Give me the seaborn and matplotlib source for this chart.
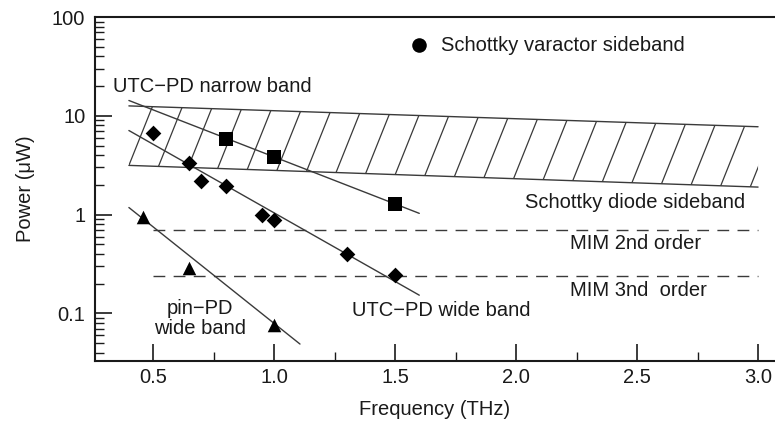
import numpy as np
import matplotlib.pyplot as plt
import seaborn as sns
from matplotlib.patches import Polygon
from matplotlib.collections import LineCollection
from matplotlib.ticker import LogLocator, MultipleLocator, NullFormatter

# values (frequency in THz, power in uW)
narrow_freq = [0.8, 1.0, 1.5]
narrow_power = [5.8, 3.85, 1.28]
narrow_fit_freq = [0.4, 1.6]
narrow_fit_power = [14.3, 1.03]

wide_freq = [0.5, 0.65, 0.7, 0.8, 0.95, 1.0, 1.3, 1.5]
wide_power = [6.65, 3.33, 2.2, 1.95, 0.98, 0.88, 0.40, 0.245]
wide_fit_freq = [0.4, 1.6]
wide_fit_power = [7.1, 0.153]

pin_freq = [0.46, 0.65, 1.0]
pin_power = [0.94, 0.29, 0.076]
pin_fit_freq = [0.4, 1.107]
pin_fit_power = [1.18, 0.049]

band_freq = [0.4, 3.0]
band_top = [12.6, 7.75]
band_bottom = [3.15, 1.9]

mim_freq = [0.5, 3.0]
mim2_power = [0.7, 0.7]
mim3_power = [0.24, 0.24]

varactor_freq = [1.6]
varactor_power = [52]

x_ticks = [0.5, 1.0, 1.5, 2.0, 2.5, 3.0]
x_labels = ['0.5', '1.0', '1.5', '2.0', '2.5', '3.0']
y_ticks = [0.1, 1, 10, 100]
y_labels = ['0.1', '1', '10', '100']

sns.set_style('ticks')
plt.rcParams['font.family'] = ['Liberation Sans', 'DejaVu Sans']
plt.rcParams['font.size'] = 14.5
ink = '#1a1a1a'
line_col = '#3a3a3a'

fig = plt.figure(figsize=(7.75, 4.21), dpi=100)
ax = fig.add_axes([0.1226, 0.1425, 0.8774, 0.8171])
ax.set_yscale('log')
ax.set_xlim(0.26, 3.07)
ax.set_ylim(0.033, 100)

# fit lines
sns.lineplot(x=narrow_fit_freq, y=narrow_fit_power, color=line_col, lw=1.0, ax=ax)
sns.lineplot(x=wide_fit_freq, y=wide_fit_power, color=line_col, lw=1.0, ax=ax)
sns.lineplot(x=pin_fit_freq, y=pin_fit_power, color=line_col, lw=1.0, ax=ax)

# MIM dashed levels
for lvl in (mim2_power, mim3_power):
    sns.lineplot(x=mim_freq, y=lvl, color=line_col, lw=1.0, ax=ax)
    ax.lines[-1].set_dashes([8.5, 6])

# Schottky diode band: edges + slanted hatch
sns.lineplot(x=band_freq, y=band_top, color=line_col, lw=1.0, ax=ax)
sns.lineplot(x=band_freq, y=band_bottom, color=line_col, lw=1.0, ax=ax)
band = Polygon(list(zip(band_freq, band_top)) + list(zip(band_freq[::-1], band_bottom[::-1])),
               closed=True, facecolor='none', edgecolor='none', transform=ax.transData)
ax.add_patch(band)
to_axes = ax.transData + ax.transAxes.inverted()
cx, cy = to_axes.transform((band_freq[0], band_bottom[0]))
slant = 0.4 * 344 / 680      # x shift per unit of axes height
step = 30 / 680              # hatch spacing
x0 = cx - cy * slant
starts = x0 + step * np.arange(-5, 30)
segs = [[(s, 0), (s + slant, 1)] for s in starts]
hatch = LineCollection(segs, colors=line_col, linewidths=0.9, transform=ax.transAxes)
ax.add_collection(hatch)
hatch.set_clip_path(band)

# markers
sns.scatterplot(x=narrow_freq, y=narrow_power, marker='s', s=100, color='black', linewidth=0, ax=ax, zorder=5)
sns.scatterplot(x=wide_freq, y=wide_power, marker='D', s=64, color='black', linewidth=0, ax=ax, zorder=5)
sns.scatterplot(x=pin_freq, y=pin_power, marker='^', s=95, color='black', linewidth=0, ax=ax, zorder=5)
sns.scatterplot(x=varactor_freq, y=varactor_power, marker='o', s=110, color='black', linewidth=0, ax=ax, zorder=5)

# annotations
ax.text(1.69, 52, 'Schottky varactor sideband', color=ink, va='center', ha='left')
ax.text(0.335, 19.6, 'UTC\u2212PD narrow band', color=ink, va='center', ha='left')
ax.text(2.037, 1.34, 'Schottky diode sideband', color=ink, va='center', ha='left')
ax.text(2.223, 0.51, 'MIM 2nd order', color=ink, va='center', ha='left')
ax.text(2.223, 0.172, 'MIM 3nd  order', color=ink, va='center', ha='left')
ax.text(1.322, 0.106, 'UTC\u2212PD wide band', color=ink, va='center', ha='left')
ax.text(0.694, 0.089, 'pin\u2212PD\nwide band', color=ink, va='center', ha='center', linespacing=1.05)

# axes styling
ax.set_xticks(x_ticks, labels=x_labels)
ax.xaxis.set_minor_locator(MultipleLocator(0.25))
ax.set_yticks(y_ticks, labels=y_labels)
ax.yaxis.set_minor_locator(LogLocator(base=10, subs=np.arange(2, 10), numticks=20))
ax.yaxis.set_minor_formatter(NullFormatter())
ax.set_ylim(0.033, 100)
ax.tick_params(which='major', direction='in', length=12, width=1.2, colors=ink, pad=5, labelsize=14.5)
ax.tick_params(axis='y', which='major', pad=7)
ax.tick_params(which='minor', direction='in', length=6.5, width=1.0, colors=ink)
ax.tick_params(top=False, right=False, which='both')
ax.spines['right'].set_visible(False)
for side in ('left', 'bottom', 'top'):
    ax.spines[side].set_linewidth(1.5)
    ax.spines[side].set_color(ink)

ax.set_xlabel('Frequency (THz)', fontsize=14.5, color=ink)
ax.set_ylabel('Power (\u03bcW)', fontsize=14.5, color=ink)
ax.xaxis.set_label_coords(0.5, -0.112)
ax.yaxis.set_label_coords(-0.088, 0.5)

fig.savefig('out.png', dpi=100)
